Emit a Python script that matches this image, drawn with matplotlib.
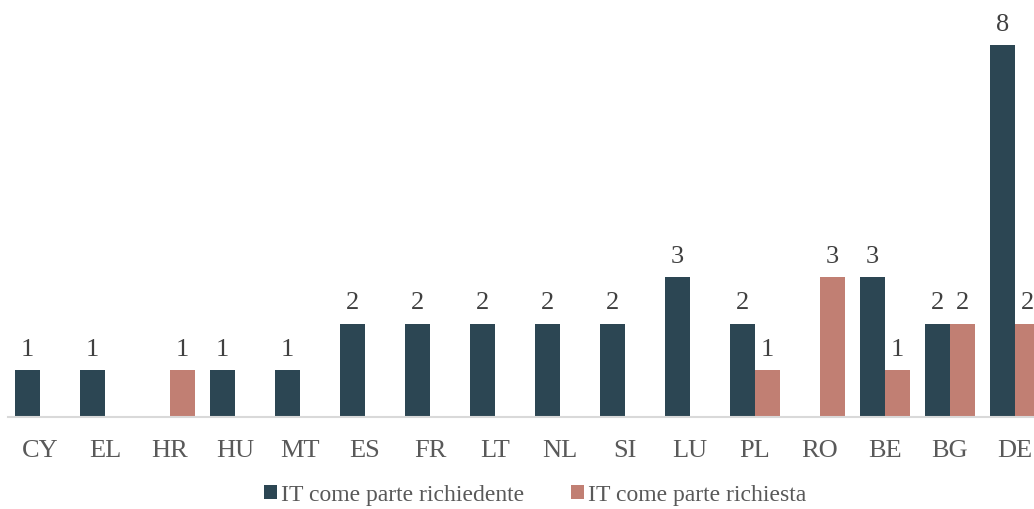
import matplotlib
matplotlib.use("Agg")
import matplotlib.pyplot as plt
import numpy as np

categories = ["CY", "EL", "HR", "HU", "MT", "ES", "FR", "LT", "NL", "SI", "LU", "PL", "RO", "BE", "BG", "DE"]
richiedente = [1, 1, 0, 1, 1, 2, 2, 2, 2, 2, 3, 2, 0, 3, 2, 8]
richiesta = [0, 0, 1, 0, 0, 0, 0, 0, 0, 0, 0, 1, 3, 1, 2, 2]
series_names = ["IT come parte richiedente", "IT come parte richiesta"]

plt.rcParams['font.family'] = ['Liberation Serif', 'DejaVu Serif']
dark = "#2C4653"
red = "#C17F73"
txt = "#595959"

fig = plt.figure(figsize=(10.34, 5.10), dpi=100)
ax = fig.add_axes([7.5/1034, (510-417.5)/510, 1040/1034, 417.5/510])
x = np.arange(len(categories))
w = 25/65
b1 = ax.bar(x - w/2, richiedente, w, color=dark, label=series_names[0])
b2 = ax.bar(x + w/2, richiesta, w, color=red, label=series_names[1])
for bars, vals in ((b1, richiedente), (b2, richiesta)):
    for r, v in zip(bars, vals):
        if v > 0:
            ax.annotate(str(v), (r.get_x() + r.get_width()/2, v), xytext=(0, 7.5),
                        textcoords="offset points", ha="center", va="bottom",
                        fontsize=19, color="#404040")
ax.set_xlim(-0.5, len(categories) - 0.5)
ax.set_ylim(0, 417.5/46.4)
ax.set_xticks(x)
ax.set_xticklabels(categories, fontsize=19, color=txt)
ax.tick_params(axis="x", length=0, pad=16)
ax.set_yticks([])
for s in ("top", "right", "left"):
    ax.spines[s].set_visible(False)
ax.spines["bottom"].set_color("#D9D9D9")
ax.spines["bottom"].set_linewidth(1.5)
ax.set_zorder(1)

handles = [b1, b2]
fig.legend(handles, series_names, loc="center", bbox_to_anchor=(535/1034, 1 - 496/510),
           ncol=2, frameon=False, fontsize=17, labelcolor=txt,
           handlelength=0.55, handleheight=0.55, handletextpad=0.15, columnspacing=2.0)
fig.savefig("out.png", dpi=100)
